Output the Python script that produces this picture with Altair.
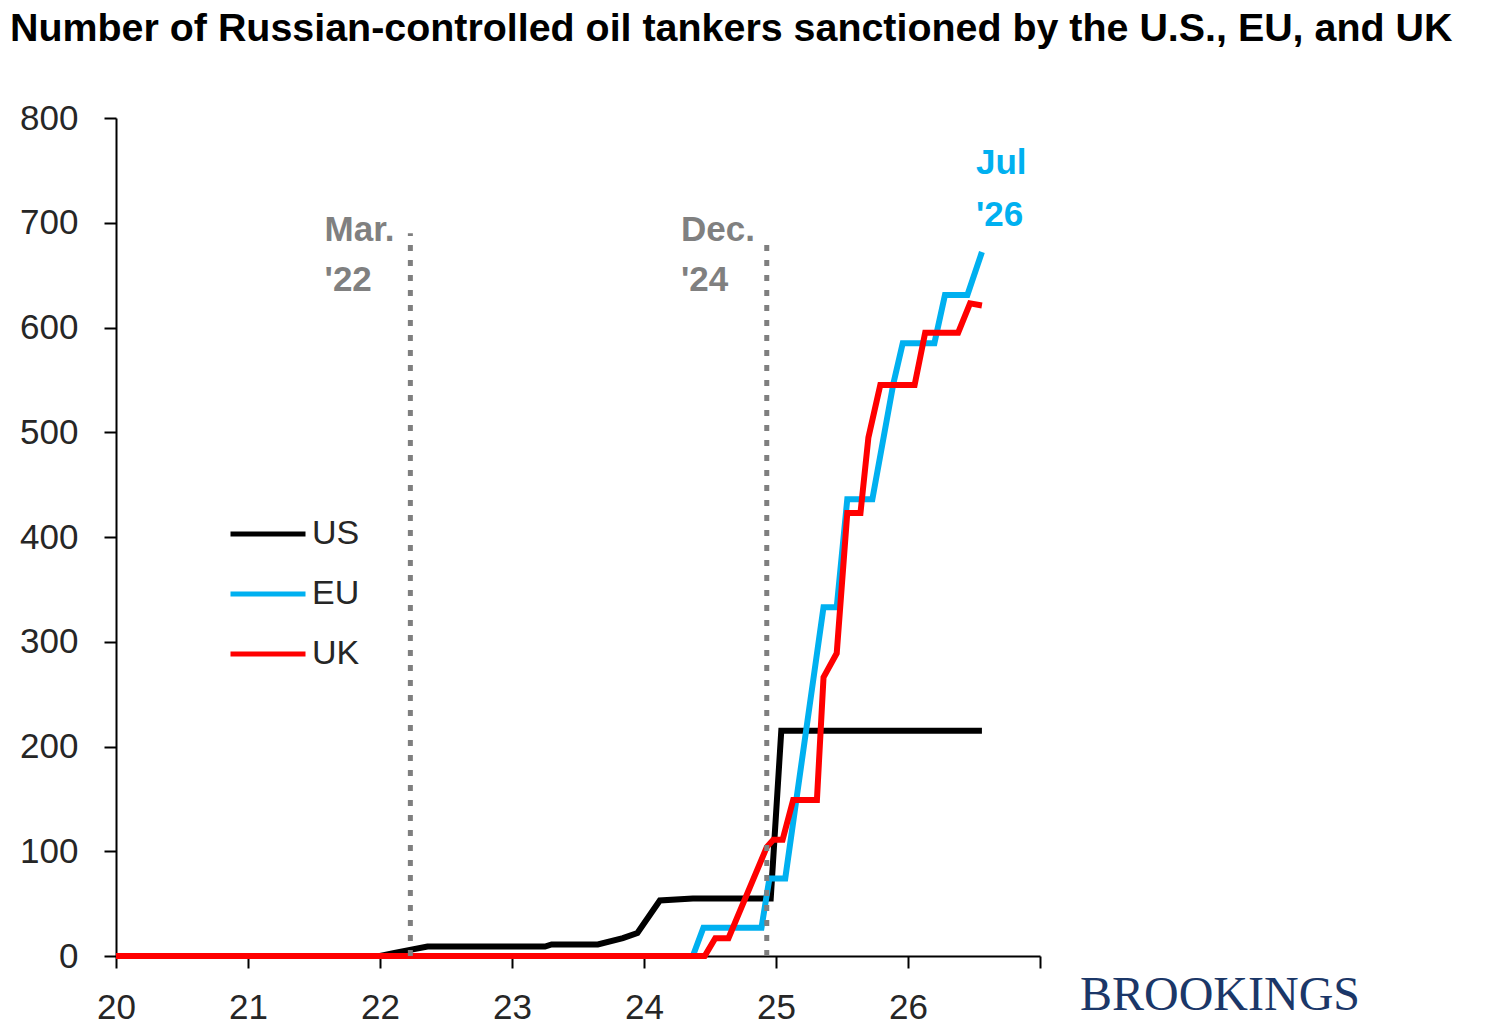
import pandas as pd
import altair as alt

# series (year as 20.0 = Jan 2020)
us_year = [20, 22.0, 22.11, 22.36, 23.25, 23.3, 23.65, 23.84, 23.95, 24.12, 24.37, 24.96, 25.04, 26.56]
us_val = [0, 0, 3, 9, 9, 11, 11, 17, 22, 53, 55, 55, 215, 215]

eu_year = [20, 24.37, 24.45, 24.89, 24.95, 25.07, 25.36, 25.46, 25.54, 25.73, 25.89, 25.96, 26.20, 26.28, 26.45, 26.56]
eu_val = [0, 0, 27, 27, 74, 74, 333, 333, 436, 436, 547, 585, 585, 631, 631, 672]

uk_year = [20, 24.46, 24.54, 24.64, 24.93, 24.98, 25.05, 25.13, 25.31, 25.36, 25.46, 25.54, 25.64, 25.70, 25.79, 26.05, 26.13, 26.38, 26.47, 26.56]
uk_val = [0, 0, 17, 17, 104, 111, 111, 149, 149, 266, 289, 423, 423, 495, 545, 545, 595, 595, 623, 621]

series = ["US", "EU", "UK"]
colors = ["#000000", "#00B0F0", "#FF0000"]

# vertical markers
mark_year = [22.23, 24.93]
mark_top = [690, 686]

# annotation texts
note_text = ["Mar.", "'22", "Dec.", "'24", "Jul", "'26"]
note_year = [21.58, 21.58, 24.28, 24.28, 26.515, 26.515]
note_val = [693, 645, 693, 645, 757, 707]
note_color = ["#808080", "#808080", "#808080", "#808080", "#00B0F0", "#00B0F0"]

dat = pd.concat([
    pd.DataFrame({"year": us_year, "tankers": us_val, "series": "US"}),
    pd.DataFrame({"year": eu_year, "tankers": eu_val, "series": "EU"}),
    pd.DataFrame({"year": uk_year, "tankers": uk_val, "series": "UK"}),
])
mdat = pd.DataFrame({"year": mark_year, "top": mark_top, "bottom": 0})
ndat = pd.DataFrame({"year": note_year, "val": note_val, "text": note_text, "color": note_color})

xs = alt.Scale(domain=[20, 27], nice=False)
ys = alt.Scale(domain=[0, 800], nice=False)

base = alt.Chart(dat).encode(
    x=alt.X("year:Q", scale=xs,
            axis=alt.Axis(values=list(range(20, 28)), title=None, grid=False, format="d",
                          labelExpr="datum.value == 27 ? '' : datum.label",
                          labelPadding=22, labelFlush=False)),
    y=alt.Y("tankers:Q", scale=ys,
            axis=alt.Axis(values=list(range(0, 900, 100)), title=None, grid=False,
                          labelPadding=26)),
    color=alt.Color("series:N",
                    scale=alt.Scale(domain=series, range=colors),
                    legend=alt.Legend(title=None, orient="none", legendX=112, legendY=376,
                                      symbolType="stroke", symbolSize=5625,
                                      symbolStrokeWidth=5, labelFontSize=34,
                                      labelColor="#262626", labelFont="Liberation Sans",
                                      labelOffset=4, rowPadding=3)),
)

lines = [base.transform_filter(alt.datum.series == s).mark_line(strokeWidth=6) for s in series]

rules = alt.Chart(mdat).mark_rule(color="#7F7F7F", strokeWidth=5, strokeDash=[6, 9]).encode(
    x="year:Q", y="bottom:Q", y2="top:Q")

notes = alt.Chart(ndat).mark_text(align="left", baseline="middle", fontSize=35,
                                  fontWeight="bold", font="Liberation Sans").encode(
    x="year:Q", y="val:Q", text="text:N", color=alt.Color("color:N", scale=None))

logo = alt.Chart(pd.DataFrame({"t": ["BROOKINGS"]})).mark_text(
    font="Liberation Serif", fontSize=48, color="#1B3768", align="center", baseline="middle"
).encode(text="t:N", x=alt.value(1104), y=alt.value(878))

chart = alt.layer(*lines, rules, notes, logo).properties(
    width=924, height=838,
    autosize=alt.AutoSizeParams(type="none"),
    padding={"left": 108, "top": 110, "right": 452, "bottom": 68},
    title=alt.TitleParams("Number of Russian-controlled oil tankers sanctioned by the U.S., EU, and UK",
                          anchor="start", frame="group", dx=-106, offset=52,
                          font="Liberation Sans", fontSize=39.4, fontWeight="bold", color="#000000"),
).configure_view(stroke=None).configure_axis(
    domainColor="#000000", domainWidth=2, tickColor="#000000", tickWidth=2, tickSize=12,
    labelFont="Liberation Sans", labelFontSize=35, labelColor="#262626",
)

chart.save("out.html", embed_options={"renderer": "svg", "actions": False})
